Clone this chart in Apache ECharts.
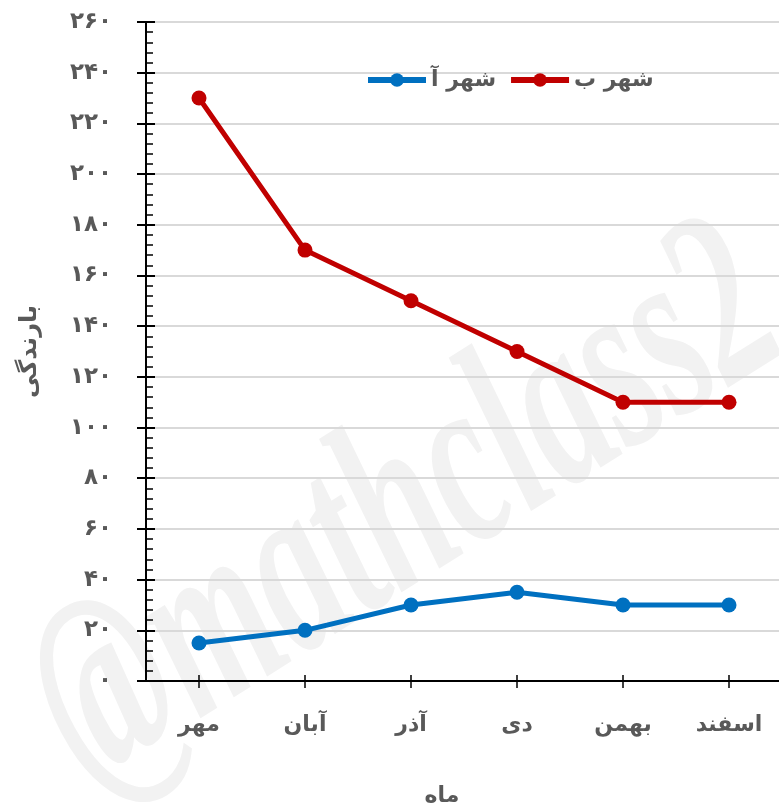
<!DOCTYPE html>
<html><head><meta charset="utf-8">
<script src="https://cdn.jsdelivr.net/npm/echarts@6/dist/echarts.min.js"></script>
<style>html,body{margin:0;padding:0;background:#fff}#c{width:779px;height:806px}</style>
</head><body><div id="c"></div>
<script>
const categories = ['مهر','آبان','آذر','دی','بهمن','اسفند'];
const cityA = [15, 20, 30, 35, 30, 30];
const cityB = [230, 170, 150, 130, 110, 110];
const seriesNames = ['شهر آ','شهر ب'];
const yTickLabels = ['۰','۲۰','۴۰','۶۰','۸۰','۱۰۰','۱۲۰','۱۴۰','۱۶۰','۱۸۰','۲۰۰','۲۲۰','۲۴۰','۲۶۰'];
const yAxisTitle = 'بارندگی';
const xAxisTitle = 'ماه';
const watermark = '@mathclass2';

const FONT = "'DejaVu Sans', sans-serif";
const GRAY = '#595959';
const chart = echarts.init(document.getElementById('c'));
const yBase = {type:'value', min:0, max:260, interval:20, position:'left'};
chart.setOption({
  animation:false,
  textStyle:{fontFamily:FONT},
  grid:{left:146, top:22, width:636, height:659, containLabel:false, outerBoundsMode:'none'},
  legend:{
    data:seriesNames, top:64, left:360, itemWidth:58, itemHeight:17, itemGap:12,
    lineStyle:{width:6},
    textStyle:{fontFamily:FONT, fontSize:22, fontWeight:'bold', color:GRAY}
  },
  graphic:[{
    type:'text', z:1,
    x:408, y:512, rotation:0.56, scaleX:0.61, scaleY:1,
    style:{
      text:watermark, x:0, y:0, align:'center', verticalAlign:'middle',
      font:"italic bold 250px 'Liberation Serif', serif",
      fill:'#f2f2f2',
      shadowBlur:5, shadowColor:'rgba(0,0,0,0.35)', shadowOffsetX:3, shadowOffsetY:3
    }
  }],
  xAxis:[{
    type:'category', data:categories, boundaryGap:true, z:3,
    axisLine:{lineStyle:{color:'#000', width:2}},
    axisTick:{show:true, alignWithLabel:true, inside:false, length:7, lineStyle:{color:'#000', width:1.5}},
    axisLabel:{margin:33, fontFamily:FONT, fontSize:22, fontWeight:'bold', color:GRAY},
    name:xAxisTitle, nameLocation:'middle', nameGap:104,
    nameTextStyle:{fontFamily:FONT, fontSize:22, fontWeight:'bold', color:GRAY, padding:[0,44,0,0]}
  },{
    type:'category', data:categories, boundaryGap:true, position:'bottom', z:3,
    axisLine:{show:false},
    axisTick:{show:true, alignWithLabel:true, inside:true, length:6, lineStyle:{color:'#000', width:1.5}},
    axisLabel:{show:false}, splitLine:{show:false}
  }],
  yAxis:[Object.assign({}, yBase, {
    z:3,
    axisLine:{show:true, lineStyle:{color:'#000', width:2}},
    axisTick:{show:true, inside:true, length:9, lineStyle:{color:'#000', width:2}},
    minorTick:{show:true, splitNumber:5, length:7, lineStyle:{color:'#000', width:1.5}},
    splitLine:{show:true, lineStyle:{color:'#d9d9d9', width:2}},
    axisLabel:{margin:34, fontFamily:FONT, fontSize:23, fontWeight:'bold', color:GRAY,
      formatter:(v)=>yTickLabels[Math.round(v/20)]},
    name:yAxisTitle, nameLocation:'middle', nameGap:104, nameRotate:90,
    nameTextStyle:{fontFamily:FONT, fontSize:24, fontWeight:'bold', color:GRAY}
  }), Object.assign({}, yBase, {
    z:3,
    axisLine:{show:false},
    axisTick:{show:true, inside:false, length:9, lineStyle:{color:'#000', width:2}},
    splitLine:{show:false}, axisLabel:{show:false}
  })],
  series:[{
    name:seriesNames[0], type:'line', data:cityA, z:5,
    symbol:'circle', symbolSize:15,
    lineStyle:{color:'#0070C0', width:5}, itemStyle:{color:'#0070C0'}
  },{
    name:seriesNames[1], type:'line', data:cityB, z:5,
    symbol:'circle', symbolSize:15,
    lineStyle:{color:'#C00000', width:5}, itemStyle:{color:'#C00000'}
  }]
});
</script></body></html>
